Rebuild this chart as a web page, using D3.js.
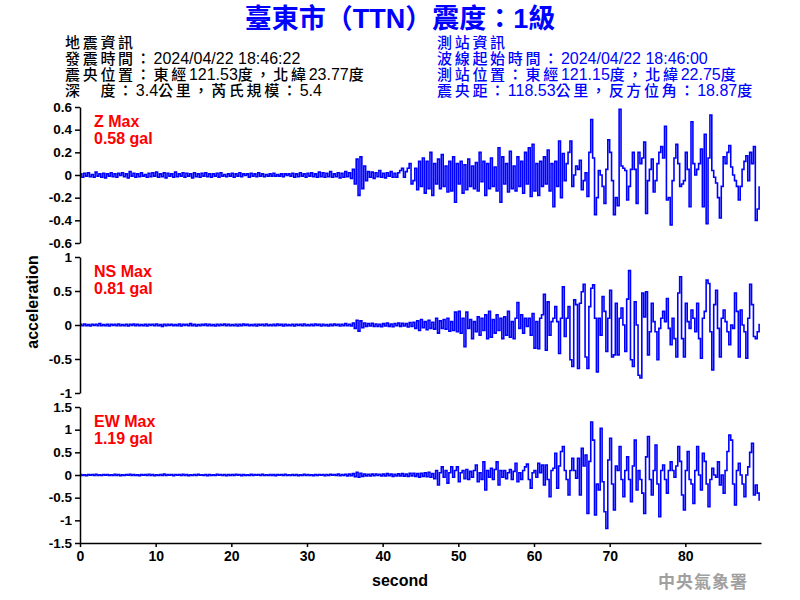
<!DOCTYPE html>
<html><head><meta charset="utf-8">
<script src="https://cdn.jsdelivr.net/npm/d3@7"></script>
<style>body{margin:0;background:#fff} svg{display:block}</style>
</head><body><svg id="c" width="800" height="600"></svg>
<script>
const dt = 0.25; // seconds between samples
const zValues = [
.01,-.02,.015,-.01,.02,-.015,.005,-.02,.025,-.01,.01,-.02,.015,-.025,.01,-.01,
.02,-.015,.01,-.02,.015,-.005,.02,-.015,.01,-.025,.03,-.01,.015,-.02,.01,-.015,
.02,-.01,.005,-.02,.015,-.015,.02,-.01,.025,-.02,.01,-.015,.02,-.025,.015,-.01,
.01,-.02,.025,-.015,.01,-.01,.02,-.02,.015,-.01,.01,-.025,.02,-.015,.01,-.02,
.015,-.01,.02,-.015,.01,-.02,.01,-.01,.015,-.02,.02,-.01,.005,-.015,.01,-.01,
.015,-.02,.01,-.01,.02,-.015,.01,-.005,.01,-.02,.015,-.01,.01,-.015,.02,-.01,
.01,-.015,.005,-.01,.01,-.01,.015,-.01,.005,-.01,.01,-.015,.01,-.005,.01,-.01,
.015,-.02,.01,-.015,.02,-.01,.01,-.02,.015,-.01,.02,-.015,.01,-.02,.025,-.015,
.02,-.02,.015,-.015,.03,-.02,.01,-.015,.02,-.025,.015,-.02,.03,-.015,.02,-.03,
.05,-.08,.14,-.18,.16,-.12,.08,-.05,.03,-.02,.025,-.03,.02,-.015,.04,-.02,
.015,-.025,.02,-.01,.03,-.02,.015,-.02,.02,.04,.06,-.02,.03,.06,.1,-.08,
-.05,.06,-.13,.12,-.1,.15,-.16,.12,-.12,.2,-.18,.1,-.08,.14,-.12,.18,
-.1,.08,-.15,.12,-.14,.16,-.24,.1,-.08,.12,-.16,.09,-.13,.14,-.1,.08,
-.12,.11,-.14,.2,-.06,.12,-.18,.1,-.12,.15,-.1,.07,-.14,.24,-.24,.16,
-.08,.1,-.15,.21,-.12,.08,-.14,.16,-.1,.12,-.16,.2,-.08,.24,-.19,.27,
-.14,.1,-.18,.12,-.1,.16,-.08,.22,-.14,.1,-.28,.12,-.1,.3,-.2,.19,
-.05,.1,.2,.3,-.1,0,.08,.05,.13,-.13,-.05,.02,-.19,.2,.49,.15,
-.35,-.2,.04,0,-.1,-.25,.05,.31,.2,-.05,-.35,-.2,-.27,.58,.08,.06,
.04,-.22,-.1,.05,.2,.05,-.25,.2,.1,.15,.29,-.34,-.05,.05,.14,-.15,
-.05,.1,.2,.25,.15,.43,-.22,-.2,-.44,-.05,.15,.27,.1,-.1,-.08,-.05,
.2,.05,-.28,.47,.1,0,.05,.1,.23,-.28,.36,-.43,.15,.53,.04,-.02,
-.07,-.2,-.38,-.1,.16,.1,.2,.26,.07,0,-.05,-.1,-.22,-.1,.05,.12,
.17,-.05,.2,.1,.25,-.4,-.3,-.1
];
const nsValues = [
.01,-.01,.015,-.01,.005,-.015,.01,-.005,.01,-.01,.02,-.01,.005,-.01,.01,-.015,
.01,-.005,.01,-.01,.015,-.01,.005,-.01,.01,-.015,.01,-.005,.015,-.01,.01,-.01,
.005,-.01,.01,-.015,.01,-.005,.01,-.01,.015,-.01,.005,-.02,.01,-.01,.01,-.005,
.01,-.01,.005,-.01,.015,-.015,.01,-.005,.01,-.01,.02,-.01,.01,-.015,.005,-.01,
.01,-.005,.015,-.01,.01,-.01,.005,-.015,.01,-.01,.01,-.005,.015,-.01,.01,-.01,
.005,-.01,.01,-.015,.01,-.01,.015,-.005,.01,-.01,.005,-.01,.01,-.015,.01,-.005,
.01,-.01,.015,-.01,.005,-.01,.01,-.01,.015,-.005,.01,-.015,.01,-.01,.005,-.01,
.01,-.015,.01,-.005,.01,-.01,.015,-.01,.005,-.01,.01,-.01,.015,-.005,.01,-.015,
.01,-.01,.005,-.015,.01,-.01,.015,-.005,.01,-.015,.01,-.01,.02,-.01,.01,-.015,
.03,-.05,.07,-.09,.06,-.04,.03,-.02,.02,-.015,.025,-.02,.015,-.02,.01,-.025,
.02,-.015,.03,-.02,.015,-.025,.02,-.01,.03,-.02,.025,-.015,.02,-.03,.035,-.02,
.04,-.05,.06,-.08,.08,-.04,.05,-.07,.07,-.05,.04,-.06,.1,-.12,.06,-.05,
.08,-.06,.1,-.09,.05,-.08,.19,-.1,.2,-.12,.1,-.32,.19,-.05,.08,-.2,
.05,-.1,.12,-.15,.1,-.08,.15,-.2,.2,-.18,.08,-.12,.15,-.08,.1,-.2,
.12,-.15,.2,-.18,.05,-.2,.1,.33,-.05,.15,-.12,.1,-.02,.1,-.15,.17,
-.34,.05,-.35,.1,.15,.45,-.37,.34,-.15,.05,.1,.27,.05,-.42,.1,.56,
-.17,.1,.27,-.51,-.61,.37,.3,-.64,.32,.49,.6,-.47,-.64,.27,.54,.59,
.1,-.69,.1,-.15,.42,.2,-.39,.1,.51,-.47,-.44,.32,-.44,.1,.25,0,
-.39,.38,.8,-.51,-.61,.34,0,-.74,-.78,.47,.12,.49,-.44,-.1,.32,.05,
-.1,-.51,-.05,.1,.2,.05,.39,-.05,-.29,.1,-.2,-.47,.47,.71,-.2,-.47,
.32,.05,-.05,.22,.1,-.1,.32,-.2,-.49,.1,.2,.66,.61,-.1,-.66,.3,
.51,-.05,-.47,.1,.22,.05,-.1,-.29,0,-.05,.47,.2,-.47,.22,0,-.1,
-.49,.1,.6,.3,-.17,-.2,-.1,.02
];
const ewValues = [
.01,-.01,.005,-.015,.01,-.005,.01,-.01,.015,-.01,.005,-.01,.01,-.005,.01,-.01,
.005,-.01,.015,-.01,.01,-.015,.005,-.01,.01,-.005,.015,-.01,.01,-.01,.005,-.015,
.01,-.005,.01,-.01,.015,-.01,.01,-.015,.005,-.01,.01,-.01,.02,-.01,.01,-.005,
.01,-.015,.01,-.005,.01,-.01,.015,-.01,.01,-.015,.005,-.01,.01,-.01,.015,-.005,
.005,-.01,.01,-.015,.01,-.01,.005,-.01,.015,-.005,.01,-.01,.01,-.015,.01,-.01,
.01,-.01,.015,-.005,.01,-.015,.01,-.01,.005,-.01,.015,-.01,.01,-.005,.01,-.01,
.015,-.01,.005,-.01,.01,-.01,.01,-.015,.01,-.005,.01,-.01,.015,-.01,.005,-.01,
.01,-.01,.01,-.015,.005,-.01,.015,-.01,.01,-.01,.005,-.015,.01,-.01,.01,-.005,
.01,-.015,.01,-.01,.015,-.005,.01,-.01,.02,-.015,.01,-.01,.015,-.02,.02,-.015,
.03,-.04,.06,-.05,.04,-.03,.02,-.02,.015,-.02,.02,-.015,.02,-.01,.015,-.02,
.02,-.02,.03,-.015,.02,-.03,.015,-.02,.025,-.02,.03,-.025,.02,-.03,.035,-.02,
.04,-.03,.03,-.05,.04,-.03,.05,-.04,.06,-.05,.03,-.08,.1,-.22,.05,.18,
-.05,.1,-.18,.05,.18,-.05,.1,.18,-.15,.05,.1,-.08,.12,-.1,.08,-.05,
.1,.22,-.15,.05,-.1,.29,-.33,.1,-.05,.15,-.1,.12,.29,-.22,.1,-.05,
.1,-.08,.05,.12,-.1,.08,.26,-.15,.05,-.1,.1,.18,.24,-.1,-.29,.05,
.1,-.05,.26,.05,.22,-.22,.22,-.1,-.48,.1,.15,.48,-.29,.2,.52,.63,
.1,-.1,-.44,.1,.37,.1,-.07,.37,-.44,.59,.2,.44,-.85,.3,1.17,.77,
-.88,-.2,-.33,1.03,-.15,-.81,-1.18,.33,.81,-.2,-.77,.2,.1,.63,-.1,-.48,
.1,.4,-.1,-.59,.2,.77,-.33,.1,-.1,-.4,-.85,.4,.85,-.1,-.44,.1,
.66,-.2,-.92,.1,.22,-.1,-.4,.1,.29,.1,-.05,.2,.63,.3,-.44,-.77,
.1,.52,-.1,-.2,-.63,.1,.63,0,-.33,.48,.3,-.2,-.7,-.1,.15,0,
-.05,.29,-.22,0,-.4,.1,.52,.88,.77,-.2,-.66,.1,.26,0,-.2,-.48,
0,.18,.5,.7,-.44,-.22,-.4,-.57
];
const xTicks = [0,10,20,30,40,50,60,70,80];
const zTicks = [-0.6,-0.4,-0.2,0,0.2,0.4,0.6];
const nsTicks = [-1,-0.5,0,0.5,1];
const ewTicks = [-1.5,-1,-0.5,0,0.5,1,1.5];
const panelNames = ["Z Max","NS Max","EW Max"];
const panelMax = ["0.58 gal","0.81 gal","1.19 gal"];
const titleText = "臺東市（TTN）震度：1級";
const quakeInfo = ["地震資訊","發震時間：2024/04/22 18:46:22","震央位置：東經121.53度，北緯23.77度","深　度：3.4公里，芮氏規模：5.4"];
const stationInfo = ["測站資訊","波線起始時間：2024/04/22 18:46:00","測站位置：東經121.15度，北緯22.75度","震央距：118.53公里，反方位角：18.87度"];
const xLabel = "second", yLabel = "acceleration", agency = "中央氣象署";

const svg = d3.select("#c");
const FONT = "'Liberation Sans', Arial, sans-serif";
const CJKF = "'Noto Sans CJK TC', sans-serif";

svg.append("text").attr("x", 400).attr("y", 28).attr("text-anchor", "middle")
  .attr("font-family", "'Liberation Sans', Arial, 'Noto Sans CJK TC', sans-serif")
  .attr("font-weight", "bold").attr("font-size", 27)
  .attr("fill", "#0000ff").text(titleText);

function mixed(str, xPos, yPos, color) {
  const t = svg.append("text").attr("x", xPos).attr("y", yPos).attr("fill", color)
    .style("white-space", "pre");
  str.split(/([\u3000-\u9fff\uff00-\uffef]+)/).filter(s => s.length).forEach(run => {
    const cjk = /[\u3000-\u9fff\uff00-\uffef]/.test(run);
    t.append("tspan").attr("font-family", cjk ? CJKF : FONT)
      .attr("font-size", cjk ? 15 : 16)
      .attr("font-weight", cjk ? 500 : "normal")
      .attr("letter-spacing", cjk ? 2.7 : 0).text(run);
  });
}
quakeInfo.forEach((s, i) => mixed(s, 65, 48 + i * 16, "#000"));
stationInfo.forEach((s, i) => mixed(s, 437, 48 + i * 16, "#0000ff"));

const x = d3.scaleLinear().domain([0, 90]).range([80, 761]);

const panels = [
  {vals: zValues, ticks: zTicks, dom: [-0.6, 0.6], top: 107, bot: 243},
  {vals: nsValues, ticks: nsTicks, dom: [-1, 1], top: 257, bot: 393},
  {vals: ewValues, ticks: ewTicks, dom: [-1.5, 1.5], top: 407, bot: 543}
];

panels.forEach((p, k) => {
  const y = d3.scaleLinear().domain(p.dom).range([p.bot, p.top]);
  const line = d3.line().x((d, i) => x(i * dt)).y(d => y(d)).curve(d3.curveStepAfter);
  svg.append("path").datum(p.vals).attr("d", line)
    .attr("fill", "none").attr("stroke", "#0000ff").attr("stroke-width", 1.6);
  const ax = svg.append("g").attr("transform", "translate(80,0)")
    .call(d3.axisLeft(y).tickValues(p.ticks).tickSize(5).tickSizeOuter(0).tickFormat(d => String(d)));
  ax.select(".domain").attr("stroke", "#000").attr("stroke-width", 1.5);
  ax.selectAll(".tick line").attr("stroke", "#000").attr("stroke-width", 1.5);
  ax.selectAll(".tick text").attr("font-family", FONT).attr("font-weight", "bold")
    .attr("font-size", 13.5).attr("fill", "#000").attr("x", -8);
  svg.append("text").attr("x", 94).attr("y", p.top + 20).attr("font-family", FONT)
    .attr("font-weight", "bold").attr("font-size", 16).attr("fill", "#ff0000").text(panelNames[k]);
  svg.append("text").attr("x", 94).attr("y", p.top + 37).attr("font-family", FONT)
    .attr("font-weight", "bold").attr("font-size", 16).attr("fill", "#ff0000").text(panelMax[k]);
});

const xa = svg.append("g").attr("transform", "translate(0,543)")
  .call(d3.axisBottom(x).tickValues(xTicks).tickSize(4).tickSizeOuter(0));
xa.select(".domain").attr("stroke", "#000").attr("stroke-width", 1.5);
xa.selectAll(".tick line").attr("stroke", "#000").attr("stroke-width", 1.5);
xa.selectAll(".tick text").attr("font-family", FONT).attr("font-weight", "bold")
  .attr("font-size", 14).attr("fill", "#000").attr("y", 8);

svg.append("text").attr("x", 400).attr("y", 586).attr("text-anchor", "middle")
  .attr("font-family", FONT).attr("font-weight", "bold").attr("font-size", 16).text(xLabel);
svg.append("text").attr("transform", "translate(38,302) rotate(-90)").attr("text-anchor", "middle")
  .attr("font-family", FONT).attr("font-weight", "bold").attr("font-size", 16).text(yLabel);
svg.append("text").attr("x", 748).attr("y", 588).attr("text-anchor", "end")
  .attr("font-family", CJKF).attr("font-weight", "bold")
  .attr("font-size", 17).attr("fill", "#a0a0a0").attr("letter-spacing", 1).text(agency);
</script></body></html>
